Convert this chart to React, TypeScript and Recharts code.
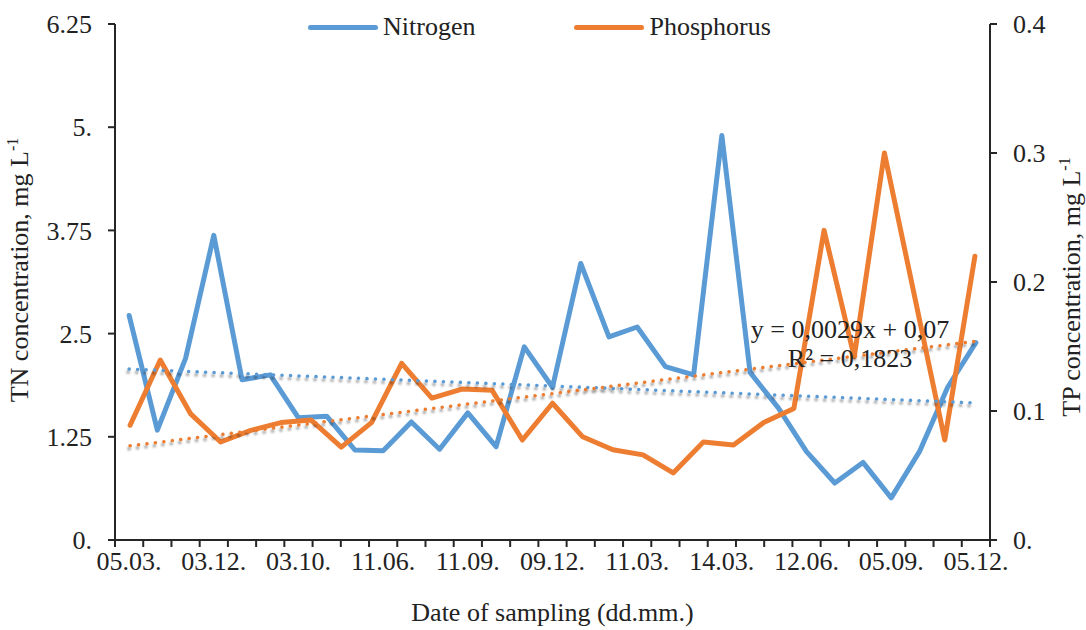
import { ComposedChart, Line, XAxis, YAxis, ReferenceDot } from "recharts";

const FONT = "'Liberation Serif', 'Times New Roman', serif";
const INK = "#222";
const AXIS = "#262626";
const BLUE = "#5B9BD5";
const ORANGE = "#ED7D31";

// TN, mg/L - 31 samplings (primary x axis)
const nitrogen = [
  2.72, 1.33, 2.2, 3.69, 1.94, 2.0, 1.48, 1.5, 1.09, 1.08, 1.43, 1.1, 1.54, 1.13, 2.34, 1.85,
  3.35, 2.46, 2.58, 2.1, 2.0, 4.9, 2.03, 1.6, 1.07, 0.69, 0.94, 0.51, 1.07, 1.85, 2.39,
];
// TP, mg/L - 29 samplings (secondary x axis)
const phosphorus = [
  0.089, 0.1395, 0.098, 0.076, 0.085, 0.091, 0.093, 0.072, 0.091, 0.137, 0.11, 0.117, 0.116,
  0.0775, 0.106, 0.08, 0.07, 0.066, 0.052, 0.076, 0.0736, 0.091, 0.102, 0.24, 0.142, 0.3, 0.189,
  0.0775, 0.22,
];
// linear trend end values
const nitrogenTrend = [2.07, 1.66];
const phosphorusTrend = [0.073, 0.154];

// every 3rd sampling date is labelled
const dateLabels = ["05.03.", "03.12.", "03.10.", "11.06.", "11.09.", "09.12.", "11.03.", "14.03.", "12.06.", "05.09.", "05.12."];
const labelStep = 3;

const tnTicks = [0, 1.25, 2.5, 3.75, 5, 6.25];
const tnTickLabels = ["0.", "1.25", "2.5", "3.75", "5.", "6.25"];
const tpTicks = [0, 0.1, 0.2, 0.3, 0.4];
const tpTickLabels = ["0.", "0.1", "0.2", "0.3", "0.4"];

const seriesNames = ["Nitrogen", "Phosphorus"];
const seriesColors = [BLUE, ORANGE];

const equation = "y = 0,0029x + 0,07";
const rSquared = "R² = 0,1823";

const nData = nitrogen.map((v, i) => ({ idx: i, v }));
const pData = phosphorus.map((v, i) => ({ idx: i, v }));
const nTrendData = [
  { idx: 0, v: nitrogenTrend[0] },
  { idx: nitrogen.length - 1, v: nitrogenTrend[1] },
];
const pTrendData = [
  { idx: 0, v: phosphorusTrend[0] },
  { idx: phosphorus.length - 1, v: phosphorusTrend[1] },
];

// tick marks sit between categories, labels on every 3rd category
const boundaryTicks = Array.from({ length: nitrogen.length + 1 }, (_, i) => i - 0.5);
const labelTicks = dateLabels.map((_, i) => i * labelStep);
const xTicks = [...boundaryTicks, ...labelTicks].sort((a, b) => a - b);

const DateTick = (props: any) => {
  const { x, y, payload } = props;
  const v = payload.value;
  if (Number.isInteger(v)) {
    return (
      <text x={x} y={y} dy={30} textAnchor="middle" fill={INK} fontSize={26} fontFamily={FONT}>
        {dateLabels[v / labelStep]}
      </text>
    );
  }
  return <line x1={x} x2={x} y1={y} y2={y + 7} stroke={AXIS} strokeWidth={2} />;
};

const AxisTitle = (props: any) => {
  const { viewBox, text, side } = props;
  const cx = side === "left" ? viewBox.x + 28 : viewBox.x + viewBox.width - 6;
  const cy = viewBox.y + viewBox.height / 2 + (side === "left" ? -12 : 5);
  return (
    <text
      x={cx}
      y={cy}
      transform={`rotate(-90 ${cx} ${cy})`}
      textAnchor="middle"
      fill={INK}
      fontSize={26}
      fontFamily={FONT}
    >
      {text}
      <tspan dy={-10} fontSize={16}>
        -1
      </tspan>
    </text>
  );
};

const tickStyle = { fill: INK, fontSize: 26, fontFamily: FONT };

export default function App() {
  return (
    <div style={{ position: "relative", width: 1086, height: 630, background: "#fff", fontFamily: FONT }}>
      <style>{`
        body { margin: 0; }
        .trend .recharts-curve { filter: drop-shadow(-1px 3px 1px rgba(0,0,0,0.38)); }
      `}</style>
      <ComposedChart width={1086} height={630} margin={{ top: 24, right: 0, bottom: 0, left: 0 }}>
        <XAxis
          xAxisId="n"
          dataKey="idx"
          type="number"
          domain={[-0.5, nitrogen.length - 0.5]}
          ticks={xTicks}
          interval={0}
          tick={<DateTick />}
          tickLine={false}
          tickSize={0}
          tickMargin={0}
          height={90}
          axisLine={{ stroke: AXIS, strokeWidth: 2 }}
          label={{
            value: "Date of sampling (dd.mm.)",
            position: "insideBottom",
            offset: 9,
            fill: INK,
            fontSize: 26,
            fontFamily: FONT,
          }}
        />
        <XAxis xAxisId="p" dataKey="idx" type="number" domain={[-0.5, phosphorus.length - 0.5]} hide />
        <YAxis
          yAxisId="n"
          orientation="left"
          width={115}
          domain={[0, 6.25]}
          ticks={tnTicks}
          interval={0}
          tickFormatter={(v: number) => tnTickLabels[tnTicks.indexOf(v)]}
          tick={tickStyle}
          tickSize={7}
          tickMargin={16}
          tickLine={{ stroke: AXIS, strokeWidth: 2 }}
          axisLine={{ stroke: AXIS, strokeWidth: 2 }}
          label={<AxisTitle text="TN concentration, mg L" side="left" />}
        />
        <YAxis
          yAxisId="p"
          orientation="right"
          width={96}
          domain={[0, 0.4]}
          ticks={tpTicks}
          interval={0}
          tickFormatter={(v: number) => tpTickLabels[tpTicks.indexOf(v)]}
          tick={tickStyle}
          tickSize={7}
          tickMargin={16}
          tickLine={{ stroke: AXIS, strokeWidth: 2 }}
          axisLine={{ stroke: AXIS, strokeWidth: 2 }}
          label={<AxisTitle text="TP concentration, mg L" side="right" />}
        />

        <Line
          data={nData}
          xAxisId="n"
          yAxisId="n"
          dataKey="v"
          name={seriesNames[0]}
          stroke={BLUE}
          strokeWidth={5}
          strokeLinejoin="round"
          strokeLinecap="round"
          dot={false}
          activeDot={false}
          isAnimationActive={false}
        />
        <Line
          data={pData}
          xAxisId="p"
          yAxisId="p"
          dataKey="v"
          name={seriesNames[1]}
          stroke={ORANGE}
          strokeWidth={5}
          strokeLinejoin="round"
          strokeLinecap="round"
          dot={false}
          activeDot={false}
          isAnimationActive={false}
        />
        {/* linear trend lines */}
        <Line
          className="trend"
          data={nTrendData}
          xAxisId="n"
          yAxisId="n"
          dataKey="v"
          stroke={BLUE}
          strokeWidth={3.5}
          strokeDasharray="0.1 8.4"
          strokeLinecap="round"
          dot={false}
          activeDot={false}
          legendType="none"
          isAnimationActive={false}
        />
        <Line
          className="trend"
          data={pTrendData}
          xAxisId="p"
          yAxisId="p"
          dataKey="v"
          stroke={ORANGE}
          strokeWidth={3.5}
          strokeDasharray="0.1 8.4"
          strokeLinecap="round"
          dot={false}
          activeDot={false}
          legendType="none"
          isAnimationActive={false}
        />
        <ReferenceDot
          xAxisId="p"
          yAxisId="p"
          x={23.86}
          y={0.164}
          r={0}
          fill="none"
          stroke="none"
          label={{ value: equation, position: "center", fill: INK, fontSize: 26, fontFamily: FONT }}
        />
        <ReferenceDot
          xAxisId="p"
          yAxisId="p"
          x={23.86}
          y={0.141}
          r={0}
          fill="none"
          stroke="none"
          label={{ value: rSquared, position: "center", fill: INK, fontSize: 26, fontFamily: FONT }}
        />
      </ComposedChart>

      <div
        style={{
          position: "absolute",
          top: 14,
          left: 308,
          display: "flex",
          alignItems: "center",
          gap: 99,
          fontSize: 26,
          lineHeight: "26px",
          color: INK,
        }}
      >
        {seriesNames.map((name, i) => (
          <div key={name} style={{ display: "flex", alignItems: "center", gap: 5 }}>
            <span
              style={{
                display: "inline-block",
                width: 70,
                height: 5,
                borderRadius: 3,
                background: seriesColors[i],
              }}
            />
            <span>{name}</span>
          </div>
        ))}
      </div>
    </div>
  );
}
